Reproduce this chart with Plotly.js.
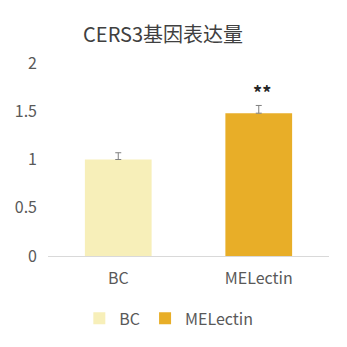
<!DOCTYPE html>
<html><head><meta charset="utf-8">
<script src="https://cdn.plot.ly/plotly-3.0.1.min.js"></script>
<style>html,body{margin:0;padding:0;background:#fff}#c{width:347px;height:347px}</style>
</head><body><div id="c"></div>
<script>
var categories = ["BC", "MELectin"];
var values = [1.0, 1.48];
var errors = [0.07, 0.08];
var colors = ["#F7EFB9", "#E8AE28"];
var sigLabels = ["", "**"];
var yTicks = [0, 0.5, 1, 1.5, 2];

var font = "Noto Sans CJK SC, Noto Sans, sans-serif";
var traces = categories.map(function(c, i){
  return {
    type: "bar", name: c, x: [c], y: [values[i]],
    marker: {color: colors[i]},
    error_y: {type: "data", array: [errors[i]], arrayminus: [NaN], symmetric: false,
              color: "#808080", thickness: 1, width: 3},
    hoverinfo: "none"
  };
});
var annotations = [];
categories.forEach(function(c, i){
  if (sigLabels[i]) annotations.push({
    x: c, y: values[i] + errors[i], yref: "y", xref: "x", text: "<b>" + sigLabels[i] + "</b>",
    showarrow: false, yanchor: "bottom", yshift: -2, xshift: 3,
    font: {family: font, size: 18, color: "#262626"}
  });
});
Plotly.newPlot("c", traces, {
  width: 347, height: 347,
  margin: {l: 48, r: 18, t: 63, b: 91},
  paper_bgcolor: "#fff", plot_bgcolor: "#fff",
  title: {text: "CERS3基因表达量", x: 0.47, xanchor: "center", y: 0.9, yanchor: "middle",
          font: {family: font, size: 20, color: "#404040"}},
  barmode: "overlay", bargap: 0.525,
  xaxis: {showline: true, linecolor: "#D9D9D9", linewidth: 1, ticks: "",
          tickfont: {family: font, size: 16, color: "#595959"}, ticklabelstandoff: 8},
  yaxis: {range: [0, 2], tickvals: yTicks, ticktext: yTicks.map(String), showgrid: false,
          zeroline: false, showline: false, ticklabelstandoff: 10,
          tickfont: {family: font, size: 16, color: "#595959"}},
  showlegend: true,
  legend: {orientation: "h", x: 0.43, xanchor: "center", y: -0.235, yanchor: "top",
           font: {family: font, size: 16, color: "#595959"}, itemwidth: 30,
           traceorder: "normal"},
  annotations: annotations
}, {displayModeBar: false, staticPlot: true});
</script></body></html>
